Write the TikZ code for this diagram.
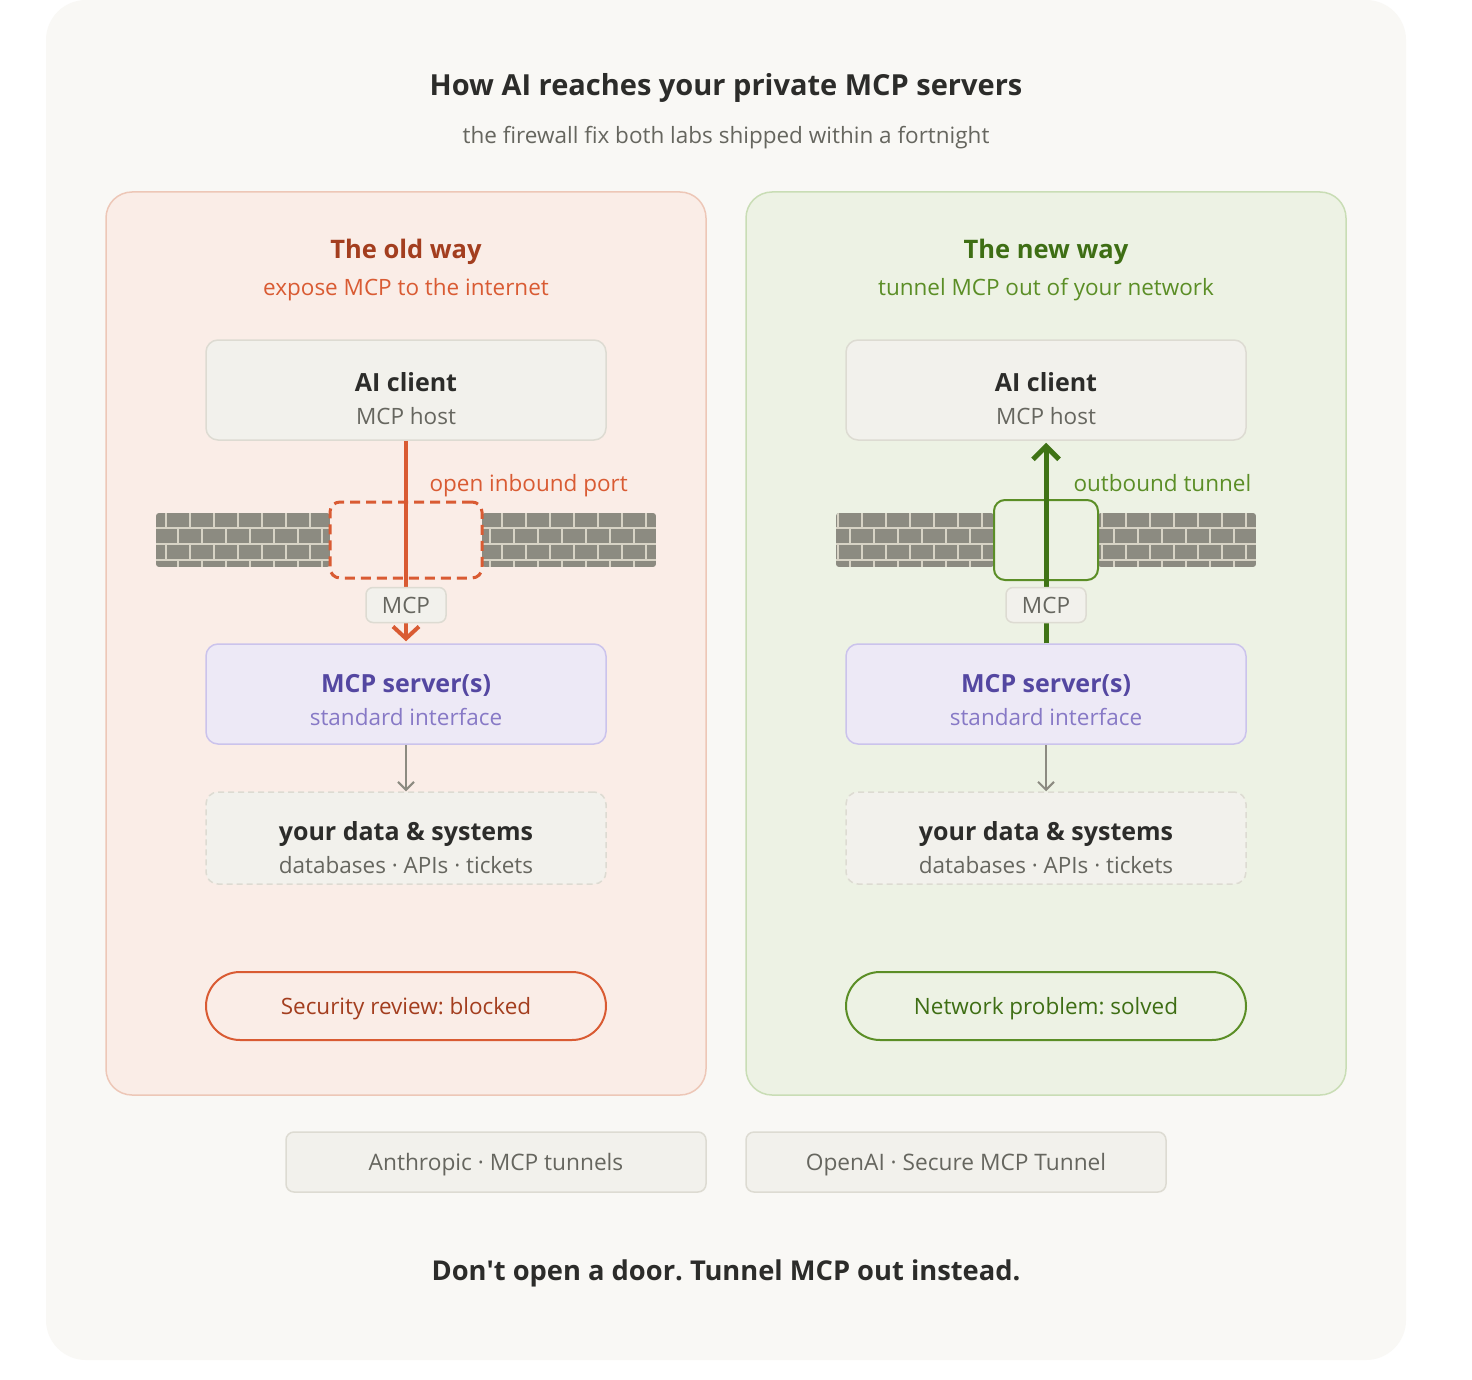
\documentclass[tikz,border=0pt]{standalone}
\usepackage{fontspec}
\setmainfont{Open Sans}
\frenchspacing
\usetikzlibrary{arrows.meta}

\definecolor{bgout}{HTML}{F9F8F5}
\definecolor{oldfill}{HTML}{FAEDE7}
\definecolor{oldline}{HTML}{EDC7B7}
\definecolor{newfill}{HTML}{EDF2E4}
\definecolor{newline}{HTML}{C9DDB5}
\definecolor{boxfill}{HTML}{F2F1EC}
\definecolor{boxline}{HTML}{DDDBD2}
\definecolor{srvfill}{HTML}{EDE9F6}
\definecolor{srvline}{HTML}{CBC3EC}
\definecolor{srvtext}{HTML}{5447A1}
\definecolor{srvsub}{HTML}{8779C6}
\definecolor{oldtitle}{HTML}{A33E1F}
\definecolor{oldaccent}{HTML}{D95B33}
\definecolor{newtitle}{HTML}{3E6E14}
\definecolor{newaccent}{HTML}{5B8E26}
\definecolor{newarrow}{HTML}{3F7315}
\definecolor{wallgray}{HTML}{8C8B81}
\definecolor{mortar}{HTML}{D7D3C5}
\definecolor{txtdark}{HTML}{2C2C2A}
\definecolor{txtgray}{HTML}{66665F}

\newcommand\brickwall[2]{%
  \begin{scope}
    \clip[rounded corners=3pt] (#1,513) rectangle (#2,567);
    \fill[wallgray] (#1,513) rectangle (#2,567);
    \draw[mortar,line width=2pt] (#1,528) -- (#2,528) (#1,544) -- (#2,544) (#1,560) -- (#2,560);
    \foreach \bx in {22,46,...,1390} {
      \draw[mortar,line width=2pt] (\bx,513) -- (\bx,528) (\bx,544) -- (\bx,560);
      \draw[mortar,line width=2pt] (\bx-12,528) -- (\bx-12,544) (\bx-12,560) -- (\bx-12,567);
    }
  \end{scope}}

\begin{document}
\begin{tikzpicture}[x=1pt,y=-1pt,
    box/.style={draw=boxline,fill=boxfill,line width=1.5pt,rounded corners=12pt,
      minimum width=400pt,minimum height=100pt,inner sep=0pt},
    srvbox/.style={box,draw=srvline,fill=srvfill},
    databox/.style={box,dash pattern=on 6pt off 4pt,minimum height=92pt},
    tag/.style={draw=boxline,fill=boxfill,line width=1.5pt,rounded corners=7pt,
      minimum width=80pt,minimum height=35pt,inner sep=0pt,text=txtgray,
      font=\fontsize{22.5}{26}\selectfont},
    pill/.style={rounded corners=34pt,line width=2pt,minimum width=400pt,
      minimum height=68pt,inner sep=0pt,text depth=0pt,font=\fontsize{22.5}{26}\selectfont},
    srcbox/.style={draw=boxline,fill=boxfill,line width=1.5pt,rounded corners=8pt,
      minimum width=420pt,minimum height=60pt,inner sep=0pt,text depth=0pt,
      text=txtgray,font=\fontsize{22.7}{26}\selectfont},
    headtxt/.style={anchor=base,text=txtdark,font=\fontsize{25}{30}\bfseries},
    subtxt/.style={anchor=base,text=txtgray,font=\fontsize{22.5}{26}\selectfont},
    paneltitle/.style={anchor=base,font=\fontsize{25.5}{30}\bfseries},
    flowarrow/.style={wallgray,line width=2pt,-{Straight Barb[length=8pt,width=16pt]}}]

  \useasboundingbox (0,0) rectangle (1472,1380);
  \fill[white] (0,0) rectangle (1472,1380);
  \fill[bgout,rounded corners=40pt] (46,0) rectangle (1406,1360);

  \node[anchor=base,text=txtdark,font=\fontsize{29}{34}\bfseries] (title) at (726,96)
    {How AI reaches your private MCP servers};
  \node[subtxt] (subtitle) at (726,144) {the firewall fix both labs shipped within a fortnight};

  % old way
  \draw[oldline,fill=oldfill,line width=1.5pt,rounded corners=26pt] (106,192) rectangle (706,1095);
  \node[paneltitle,text=oldtitle] (oldtitle) at (406,259) {The old way};
  \node[subtxt,text=oldaccent] (oldsub) at (406,296) {expose MCP to the internet};

  \node[box] (oldclient) at (406,390) {};
  \node[headtxt] at (406,391) {AI client};
  \node[subtxt] at (406,424) {MCP host};

  \brickwall{156}{330}
  \brickwall{482}{656}
  \node[draw=oldaccent,line width=3pt,dash pattern=on 10pt off 6pt,rounded corners=10pt,
    minimum width=152pt,minimum height=76pt] (oldport) at (406,540) {};
  \node[anchor=base west,text=oldaccent,font=\fontsize{22.5}{26}\selectfont] (oldportlbl)
    at (426,491) {open inbound port};

  \node[srvbox] (oldserver) at (406,694) {};
  \node[headtxt,text=srvtext] at (406,692) {MCP server(s)};
  \node[subtxt,text=srvsub] at (406,725) {standard interface};

  \draw[oldaccent,line width=4pt,shorten >=2pt,-{Straight Barb[length=12pt,width=26pt]}]
    (oldclient) -- (oldserver);
  \node[tag] (oldtag) at (406,605) {MCP};

  \node[databox] (olddata) at (406,838) {};
  \node[headtxt] at (406,840) {your data \& systems};
  \node[subtxt] at (406,873) {databases · APIs · tickets};
  \draw[flowarrow] (oldserver) -- (olddata);

  \node[pill,draw=oldaccent,text=oldtitle] (oldpill) at (406,1006) {Security review: blocked};

  % new way
  \draw[newline,fill=newfill,line width=1.5pt,rounded corners=26pt] (746,192) rectangle (1346,1095);
  \node[paneltitle,text=newtitle] (newtitle) at (1046,259) {The new way};
  \node[subtxt,text=newaccent] (newsub) at (1046,296) {tunnel MCP out of your network};

  \node[box] (newclient) at (1046,390) {};
  \node[headtxt] at (1046,391) {AI client};
  \node[subtxt] at (1046,424) {MCP host};

  \brickwall{836}{994}
  \brickwall{1098}{1256}
  \node[draw=newaccent,fill=newfill,line width=2pt,rounded corners=11pt,
    minimum width=104pt,minimum height=80pt] (newport) at (1046,540) {};
  \node[anchor=base west,text=newaccent,font=\fontsize{22.5}{26}\selectfont] (newportlbl)
    at (1070,491) {outbound tunnel};

  \node[srvbox] (newserver) at (1046,694) {};
  \node[headtxt,text=srvtext] at (1046,692) {MCP server(s)};
  \node[subtxt,text=srvsub] at (1046,725) {standard interface};

  \draw[newarrow,line width=5pt,shorten >=2pt,-{Straight Barb[length=13pt,width=26pt]}]
    (newserver) -- (newclient);
  \node[tag] (newtag) at (1046,605) {MCP};

  \node[databox] (newdata) at (1046,838) {};
  \node[headtxt] at (1046,840) {your data \& systems};
  \node[subtxt] at (1046,873) {databases · APIs · tickets};
  \draw[flowarrow] (newserver) -- (newdata);

  \node[pill,draw=newaccent,text=newtitle] (newpill) at (1046,1006) {Network problem: solved};

  % sources
  \node[srcbox] (anthropic) at (496,1162) {Anthropic · MCP tunnels};
  \node[srcbox] (openai) at (956,1162) {OpenAI · Secure MCP Tunnel};

  \node[anchor=base,text=txtdark,font=\fontsize{27.3}{32}\bfseries] (tagline) at (726,1280)
    {Don\textquotesingle t open a door. Tunnel MCP out instead.};
\end{tikzpicture}
\end{document}
